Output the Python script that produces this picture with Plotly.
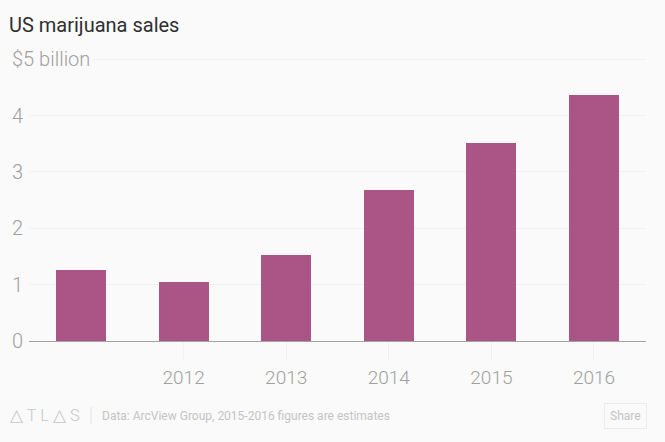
import plotly.graph_objects as go

# US marijuana sales, $ billion
years = [2011, 2012, 2013, 2014, 2015, 2016]
sales = [1.26, 1.04, 1.52, 2.67, 3.51, 4.36]
year_ticks = [2012, 2013, 2014, 2015, 2016]
y_ticks = [0, 1, 2, 3, 4, 5]
y_labels = ["0", "1", "2", "3", "4", "$5 billion"]

W, H = 665, 442
L, R, T, B = 29, 19, 58, 101

fig = go.Figure(go.Bar(x=years, y=sales, width=0.487, marker=dict(color="#ab5587", line_width=0)))


def px_x(p):
    return (p - L) / (W - L - R)


def px_y(p):
    return (H - B - p) / (H - T - B)


# y axis labels sit over the gridlines, flush left
for val, lab in zip(y_ticks, y_labels):
    fig.add_annotation(x=px_x(12), xref="paper", y=val, yref="y", text=lab, showarrow=False,
                       xanchor="left", yanchor="middle", bgcolor="#fafafa", borderpad=3, xshift=-4,
                       font=dict(family="Roboto", size=20, weight=300, color="#a0a0a0"))

# footer
fig.add_annotation(x=px_x(8), xref="paper", y=px_y(415), yref="paper", text="△ T L △ S", showarrow=False,
                   xanchor="left", yanchor="middle", font=dict(family="Roboto", size=16.5, weight=300, color="#c8c8c8"))
fig.add_annotation(x=px_x(100), xref="paper", y=px_y(415.5), yref="paper",
                   text="Data: ArcView Group, 2015-2016 figures are estimates", showarrow=False,
                   xanchor="left", yanchor="middle", font=dict(family="Roboto", size=12, color="#c4c4c4"))
fig.add_annotation(x=px_x(625.5), xref="paper", y=px_y(416), yref="paper", text="Share", showarrow=False,
                   xanchor="center", yanchor="middle", bordercolor="#ececec", borderwidth=1, borderpad=5,
                   font=dict(family="Roboto", size=12, color="#c4c4c4"))
fig.add_shape(type="line", xref="paper", yref="paper", x0=px_x(91), x1=px_x(91), y0=px_y(407), y1=px_y(424),
              line=dict(color="#e6e6e6", width=1))

fig.update_layout(
    width=W, height=H,
    margin=dict(l=L, r=R, t=T, b=B),
    paper_bgcolor="#fafafa", plot_bgcolor="#fafafa",
    showlegend=False,
    title=dict(text="US marijuana sales", x=9 / W, xanchor="left",
               y=1 - 25 / H, yanchor="middle", font=dict(family="Roboto", size=20, color="#2f2f2f")),
    xaxis=dict(range=[2010.493, 2016.507], tickvals=year_ticks, ticks="outside", ticklen=19, tickwidth=1,
               tickcolor="#f1f1f1", showgrid=False, zeroline=False, showline=True, linecolor="#a3a3a3",
               linewidth=1, tickfont=dict(family="Roboto", size=19, weight=300, color="#a0a0a0")),
    # a little headroom so plotly keeps the gridline at 5
    yaxis=dict(range=[0, 5.02], tickvals=y_ticks, showticklabels=False, showgrid=True, gridcolor="#f1f1f1",
               gridwidth=1, zeroline=False),
    bargap=0,
)

# page has a default 8px body margin
fig.write_html("out.html", config=dict(displayModeBar=False), post_script="document.body.style.margin='0';")
